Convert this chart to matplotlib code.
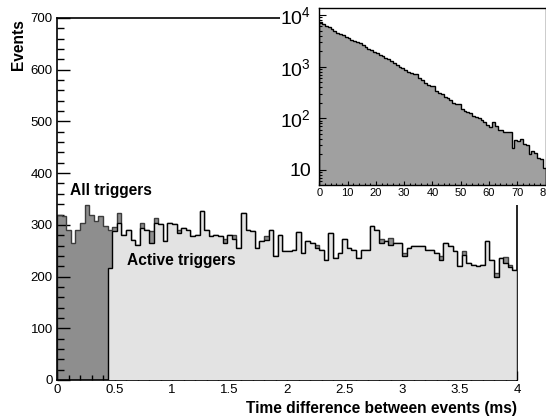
import numpy as np
import matplotlib.pyplot as plt
from matplotlib.patches import Rectangle
from matplotlib.ticker import MultipleLocator, FixedLocator, FixedFormatter, LogLocator, NullFormatter, FuncFormatter

plt.rcParams['font.family'] = ['Liberation Sans', 'DejaVu Sans']
plt.rcParams['mathtext.default'] = 'regular'

# main histogram: 100 bins of 0.04 ms from 0 to 4 ms
bin_width = 0.04
all_triggers = [320, 318, 291, 265, 291, 304, 338, 320, 307, 317,
                297, 291, 295, 323, 281, 291, 271, 262, 304, 291,
                288, 313, 301, 268, 304, 301, 291, 294, 291, 278,
                281, 326, 291, 278, 281, 278, 273, 281, 281, 255,
                323, 291, 288, 255, 268, 278, 291, 239, 281, 249,
                249, 252, 287, 246, 268, 265, 262, 252, 233, 284,
                236, 246, 272, 255, 252, 235, 252, 252, 297, 291,
                272, 268, 275, 265, 265, 246, 255, 259, 260, 259,
                252, 251, 246, 240, 265, 259, 249, 221, 249, 226,
                223, 220, 223, 268, 233, 207, 236, 238, 223, 213]
# active triggers start at bin 11 (0.44 ms)
active_start = 11
active_triggers = [217, 288, 304, 281, 291, 271, 262, 294, 291,
                   265, 304, 301, 268, 304, 301, 284, 294, 291, 278,
                   281, 326, 291, 278, 281, 278, 265, 281, 273, 255,
                   323, 291, 288, 255, 268, 270, 291, 239, 281, 249,
                   249, 252, 287, 246, 268, 265, 255, 252, 233, 284,
                   236, 246, 272, 255, 252, 235, 252, 252, 297, 291,
                   265, 268, 262, 265, 265, 239, 255, 259, 260, 259,
                   252, 251, 246, 233, 265, 259, 249, 221, 242, 226,
                   223, 220, 223, 268, 233, 199, 236, 227, 218, 213]

# inset: 80 bins of width 1
inset_counts = [7244, 6761, 6166, 5754, 5248, 4898, 4571, 4266, 4074, 3802,
                3548, 3311, 3162, 2951, 2818, 2570, 2399, 2239, 2089, 1950,
                1820, 1698, 1585, 1479, 1380, 1259, 1175, 1096, 1000, 933,
                871, 794, 741, 708, 724, 603, 550, 479, 437, 427,
                417, 331, 309, 295, 257, 251, 229, 200, 186, 191,
                151, 141, 132, 126, 112, 107, 100, 91, 83, 74,
                68, 83, 71, 58, 58, 55, 55, 54, 26, 38,
                36, 40, 32, 30, 20, 23, 21, 17, 16, 11]

W, H = 546, 418
fig = plt.figure(figsize=(W / 100, H / 100), dpi=100)

ax = fig.add_axes([57 / W, 1 - 380 / H, 460 / W, 362 / H])
edges = np.arange(len(all_triggers) + 1) * bin_width
ax.stairs(all_triggers, edges, fill=True, color='#8e8e8e', zorder=1)
ax.stairs(all_triggers, edges, color='#3c3c3c', linewidth=1.0, zorder=2)
act_edges = edges[active_start:]
ax.stairs(active_triggers, act_edges, fill=True, color='#e3e3e3', zorder=3)
ax.stairs(active_triggers, act_edges, color='black', linewidth=1.0, zorder=4)

ax.set_xlim(0, 4)
ax.set_ylim(0, 700)
ax.xaxis.set_major_locator(MultipleLocator(0.5))
ax.xaxis.set_minor_locator(MultipleLocator(0.1))
ax.yaxis.set_major_locator(MultipleLocator(100))
ax.yaxis.set_minor_locator(MultipleLocator(20))
ax.xaxis.set_major_formatter(FuncFormatter(lambda v, p: '%g' % v))
ax.tick_params(which='both', direction='in', top=False, right=False, labelsize=9.5, width=1.0)
ax.tick_params(axis='y', which='major', length=9.4, pad=3)
ax.tick_params(axis='y', which='minor', length=5)
ax.tick_params(axis='x', which='major', length=6.2, pad=3)
ax.tick_params(axis='x', which='minor', length=3.4)
for s in ax.spines.values():
    s.set_linewidth(1.2)

fig.text(517 / W, 1 - 408 / H, 'Time difference between events (ms)', fontsize=11.2,
         fontweight='bold', ha='right', va='center')
fig.text(18.5 / W, 1 - 19 / H, 'Events', fontsize=11.2, fontweight='bold',
         rotation=90, ha='center', va='top')
fig.text(70 / W, 1 - 190 / H, 'All triggers', fontsize=11.2, fontweight='bold', va='center', ha='left')
fig.text(127 / W, 1 - 260 / H, 'Active triggers', fontsize=11.2, fontweight='bold', va='center', ha='left')

# white pad behind the inset
fig.add_artist(Rectangle((280 / W, 1 - 205 / H), 266 / W, 205 / H, transform=fig.transFigure,
                         facecolor='white', edgecolor='none', zorder=1))

ax2 = fig.add_axes([319.3 / W, 1 - 185 / H, 226.3 / W, 176.7 / H], zorder=2)
in_edges = np.arange(len(inset_counts) + 1)
ax2.stairs(inset_counts, in_edges, fill=True, color='#a0a0a0', baseline=1)
ax2.stairs(inset_counts, in_edges, color='black', linewidth=1.0, baseline=1)
ax2.set_yscale('log')
ax2.set_xlim(0, 80)
ax2.set_ylim(5.1, 13500)
ax2.xaxis.set_major_locator(MultipleLocator(10))
ax2.xaxis.set_minor_locator(MultipleLocator(2))
ax2.yaxis.set_major_locator(FixedLocator([10, 100, 1000, 10000]))
ax2.yaxis.set_major_formatter(FixedFormatter(['10', '$10^{2}$', '$10^{3}$', '$10^{4}$']))
ax2.yaxis.set_minor_locator(LogLocator(base=10, subs=np.arange(2, 10)))
ax2.yaxis.set_minor_formatter(NullFormatter())
ax2.tick_params(which='both', direction='in', top=False, right=False, width=0.8)
ax2.tick_params(axis='y', which='major', length=5, labelsize=14, pad=6)
ax2.tick_params(axis='y', which='minor', length=2.5)
ax2.tick_params(axis='x', which='major', length=3, labelsize=8, pad=2)
ax2.tick_params(axis='x', which='minor', length=1.6)
for s in ax2.spines.values():
    s.set_linewidth(1.0)

fig.savefig('out.png', dpi=100)
